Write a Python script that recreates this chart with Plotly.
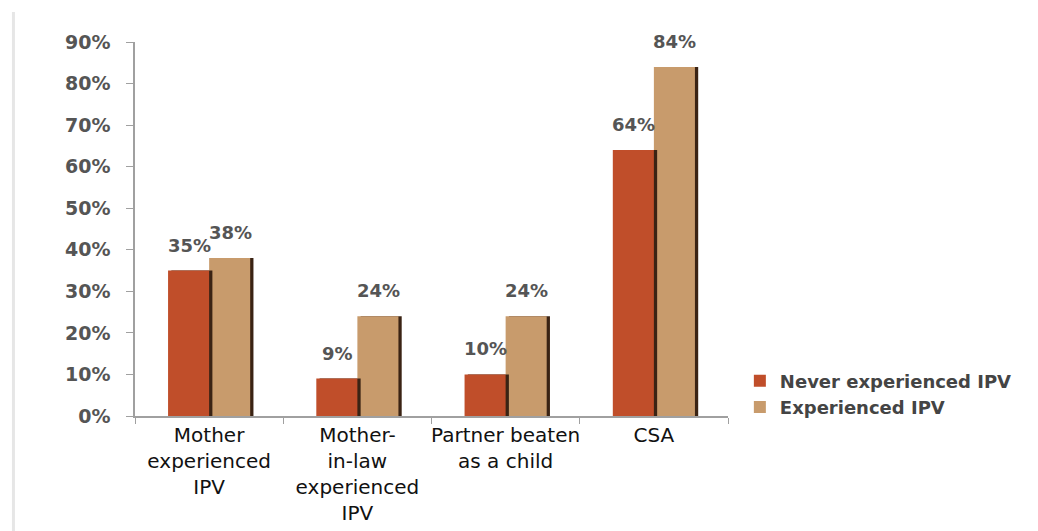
import plotly.graph_objects as go

categories = ["Mother<br>experienced<br>IPV", "Mother-<br>in-law<br>experienced<br>IPV",
              "Partner beaten<br>as a child", "CSA"]
never_ipv = [0.35, 0.09, 0.10, 0.64]
experienced_ipv = [0.38, 0.24, 0.24, 0.84]
never_labels = ["35%", "9%", "10%", "64%"]
experienced_labels = ["38%", "24%", "24%", "84%"]

red = "#C04E2A"
tan = "#C89B6C"
shadow = "#3A2314"
bw = 0.277
sh = 0.022

fig = go.Figure()
# dark shadows behind the bars
fig.add_bar(x=categories, y=experienced_ipv, width=bw, offset=sh, marker_color=shadow,
            showlegend=False, hoverinfo="skip")
fig.add_bar(x=categories, y=experienced_ipv, width=bw, offset=0, marker_color=tan,
            name="Experienced IPV", showlegend=False)
fig.add_bar(x=categories, y=never_ipv, width=bw, offset=-bw + sh, marker_color=shadow,
            showlegend=False, hoverinfo="skip")
fig.add_bar(x=categories, y=never_ipv, width=bw, offset=-bw, marker_color=red,
            name="Never experienced IPV")
# legend entry for the tan series (order: never first)
fig.add_bar(x=categories, y=[None] * 4, marker_color=tan, name="Experienced IPV")

fig.update_traces(marker_line_width=0)

lab_font = dict(family="DejaVu Sans", size=18, color="#555555", weight="bold")
for c, v, t in zip(categories, never_ipv, never_labels):
    fig.add_annotation(x=c, y=v, text=t, showarrow=False, xshift=-20, yshift=13,
                       yanchor="bottom", font=lab_font)
for c, v, t in zip(categories, experienced_ipv, experienced_labels):
    fig.add_annotation(x=c, y=v, text=t, showarrow=False, xshift=21, yshift=13,
                       yanchor="bottom", font=lab_font)

# faint border at the far left
fig.add_shape(type="line", xref="paper", yref="paper", x0=-0.205, x1=-0.205, y0=-0.31, y1=1.08,
              line=dict(color="#e6e6e6", width=3))

# page body adds 8px, so margins are trimmed to keep the plot where the original has it
fig.update_layout(
    width=1038, height=531,
    margin=dict(l=127, r=318, t=34, b=123, autoexpand=False),
    paper_bgcolor="white", plot_bgcolor="white",
    barmode="overlay",
    font=dict(family="DejaVu Sans"),
    legend=dict(x=1.02, y=0.143, xanchor="left", yanchor="top",
                font=dict(family="DejaVu Sans", size=18, color="#444444", weight="bold"),
                traceorder="normal", itemwidth=30, tracegroupgap=4),
)
fig.update_xaxes(
    type="category", range=[-0.5, 3.5], tickangle=0, automargin=False,
    showline=True, linecolor="#a0a0a0", linewidth=1.5,
    ticks="outside", tickson="boundaries", ticklen=6, tickcolor="#a0a0a0",
    tickfont=dict(family="DejaVu Sans", size=20, color="#111111"),
    showgrid=False, zeroline=False,
)
fig.update_yaxes(
    range=[0, 0.9], dtick=0.1, tickformat=".0%", automargin=False,
    showline=True, linecolor="#a0a0a0", linewidth=1.5,
    ticks="outside", ticklen=7, tickcolor="#a0a0a0",
    tickfont=dict(family="DejaVu Sans", size=19, color="#555555", weight="bold"),
    ticklabelstandoff=12,
    showgrid=False, zeroline=False,
)

fig.write_html("out.html")
